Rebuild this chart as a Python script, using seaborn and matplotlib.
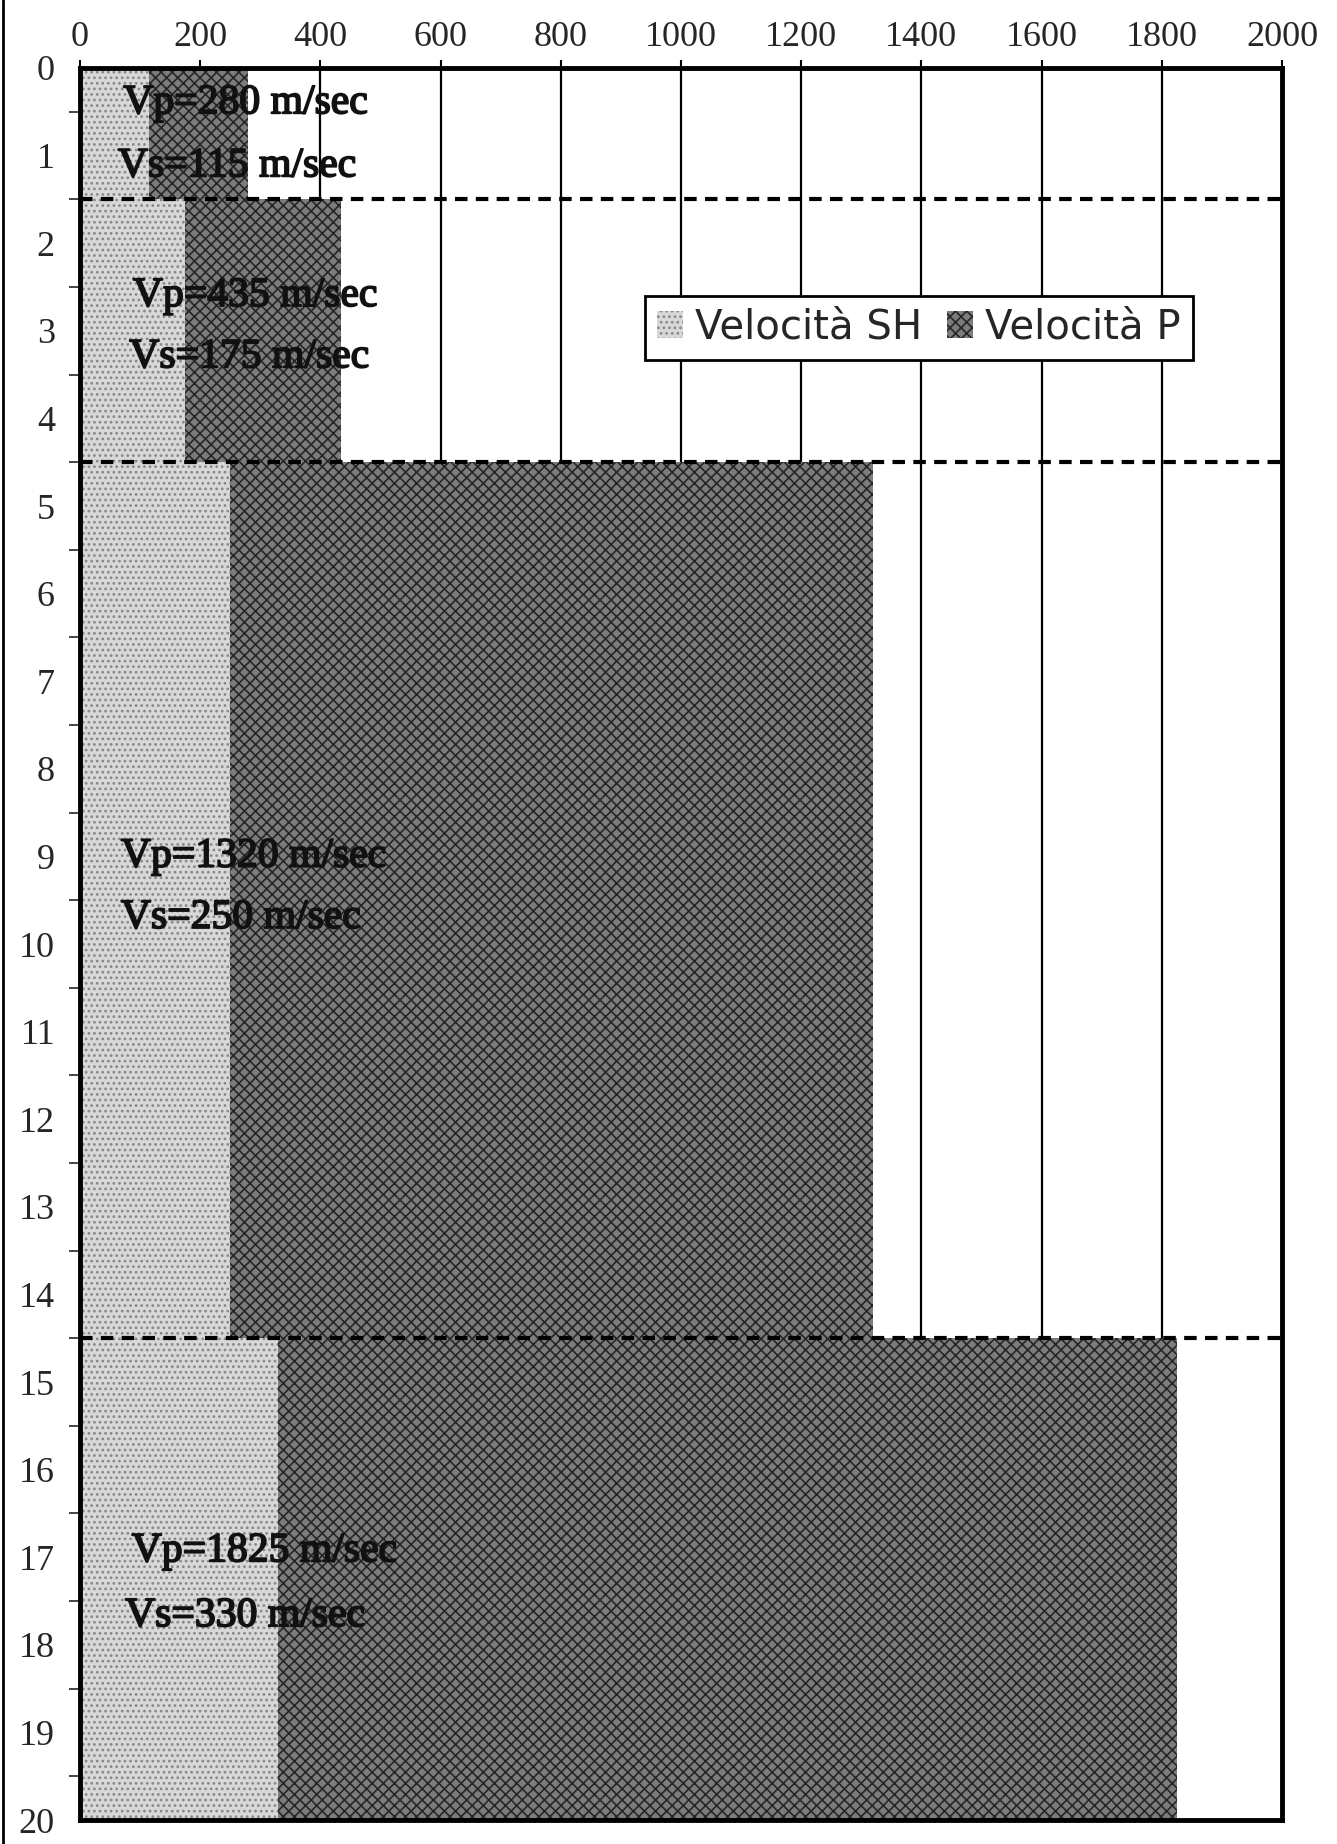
import pandas as pd
import seaborn as sns
import matplotlib.pyplot as plt
import matplotlib.patheffects as pe
from matplotlib.patches import Patch
from matplotlib.lines import Line2D
from matplotlib.ticker import MultipleLocator

sns.set_style("white")
plt.rcParams['font.family'] = ['Liberation Serif', 'DejaVu Serif']
plt.rcParams['hatch.linewidth'] = 1.2

# layer data (depth in m, velocity in m/sec)
top_depth = [0, 1.5, 4.5, 14.5]
bottom_depth = [1.5, 4.5, 14.5, 20]
vp = [280, 435, 1320, 1825]
vs = [115, 175, 250, 330]
x_ticks = [0, 200, 400, 600, 800, 1000, 1200, 1400, 1600, 1800, 2000]
labels = ["Velocità SH", "Velocità P"]

edges = top_depth + [bottom_depth[-1]]
layers = pd.DataFrame({
    "mid": [(a + b) / 2 for a, b in zip(top_depth, bottom_depth)],
    "vp": vp,
    "vs": vs,
})

fig = plt.figure(figsize=(13.37, 18.44), dpi=100)
ax = fig.add_axes([80 / 1337, 1 - 1820 / 1844, (1282 - 80) / 1337, (1820 - 68) / 1844])

# vertical grid behind the bars
for x in x_ticks[1:-1]:
    ax.axvline(x, color="black", lw=1.6, zorder=0)

dark = "#7c7c7c"
light = "#d8d8d8"
sns.histplot(data=layers, y="mid", weights="vp", bins=edges, ax=ax,
             color=dark, alpha=1, linewidth=0, edgecolor="#262626",
             hatch="xxx", zorder=1)
sns.histplot(data=layers, y="mid", weights="vs", bins=edges, ax=ax,
             color=light, alpha=1, linewidth=0, edgecolor="#888888",
             hatch="...", zorder=2)

# layer boundaries
for d in top_depth[1:]:
    ax.axhline(d, color="black", lw=3, ls=(0, (3, 2)), zorder=3)

# annotations
ann_x_p = [72, 88, 68, 86]
ann_x_s = [63, 82, 68, 75]
ann_y_p = [0.4, 2.6, 9.0, 16.93]
ann_y_s = [1.12, 3.3, 9.7, 17.67]
thick = [pe.withStroke(linewidth=1.3, foreground="#111111")]
for i in range(len(vp)):
    ax.text(ann_x_p[i], ann_y_p[i], f"Vp={vp[i]} m/sec", fontsize=30,
            va="center", ha="left", color="#111111", zorder=4, path_effects=thick)
    ax.text(ann_x_s[i], ann_y_s[i], f"Vs={vs[i]} m/sec", fontsize=30,
            va="center", ha="left", color="#111111", zorder=4, path_effects=thick)

ax.set_xlim(0, 2000)
ax.set_ylim(20, 0)
ax.xaxis.tick_top()
ax.set_xticks(x_ticks)
ax.yaxis.set_major_locator(MultipleLocator(1))
ax.yaxis.set_minor_locator(MultipleLocator(0.5))
ax.tick_params(axis="both", which="major", labelsize=26, length=12, width=2,
               color="black", direction="out", pad=6)
ax.tick_params(axis="y", which="minor", length=8, width=1.2, left=True)
ax.tick_params(axis="x", which="major", length=6, width=1.5, pad=4)
ax.set_xlabel("")
ax.set_ylabel("")
for s in ax.spines.values():
    s.set_visible(True)
    s.set_color("black")
    s.set_linewidth(3.5)
    s.set_zorder(5)

handles = [Patch(facecolor=light, edgecolor="#888888", hatch="...", lw=0),
           Patch(facecolor=dark, edgecolor="#262626", hatch="xxx", lw=0)]
leg = ax.legend(handles, labels, ncol=2, loc="upper left",
                bbox_to_anchor=(940, 2.6), bbox_transform=ax.transData,
                borderaxespad=0,
                prop={"family": "DejaVu Sans", "size": 29},
                frameon=True, fancybox=False, framealpha=1,
                handlelength=0.65, handleheight=0.65, handletextpad=0.3,
                columnspacing=0.6, borderpad=0.3)
leg.get_frame().set_edgecolor("black")
leg.get_frame().set_linewidth(2)
leg.set_zorder(6)

# scanned page border on the left
fig.add_artist(Line2D([0.002, 0.002], [0, 1], color="black", lw=2))

plt.savefig("out.png", dpi=100)
